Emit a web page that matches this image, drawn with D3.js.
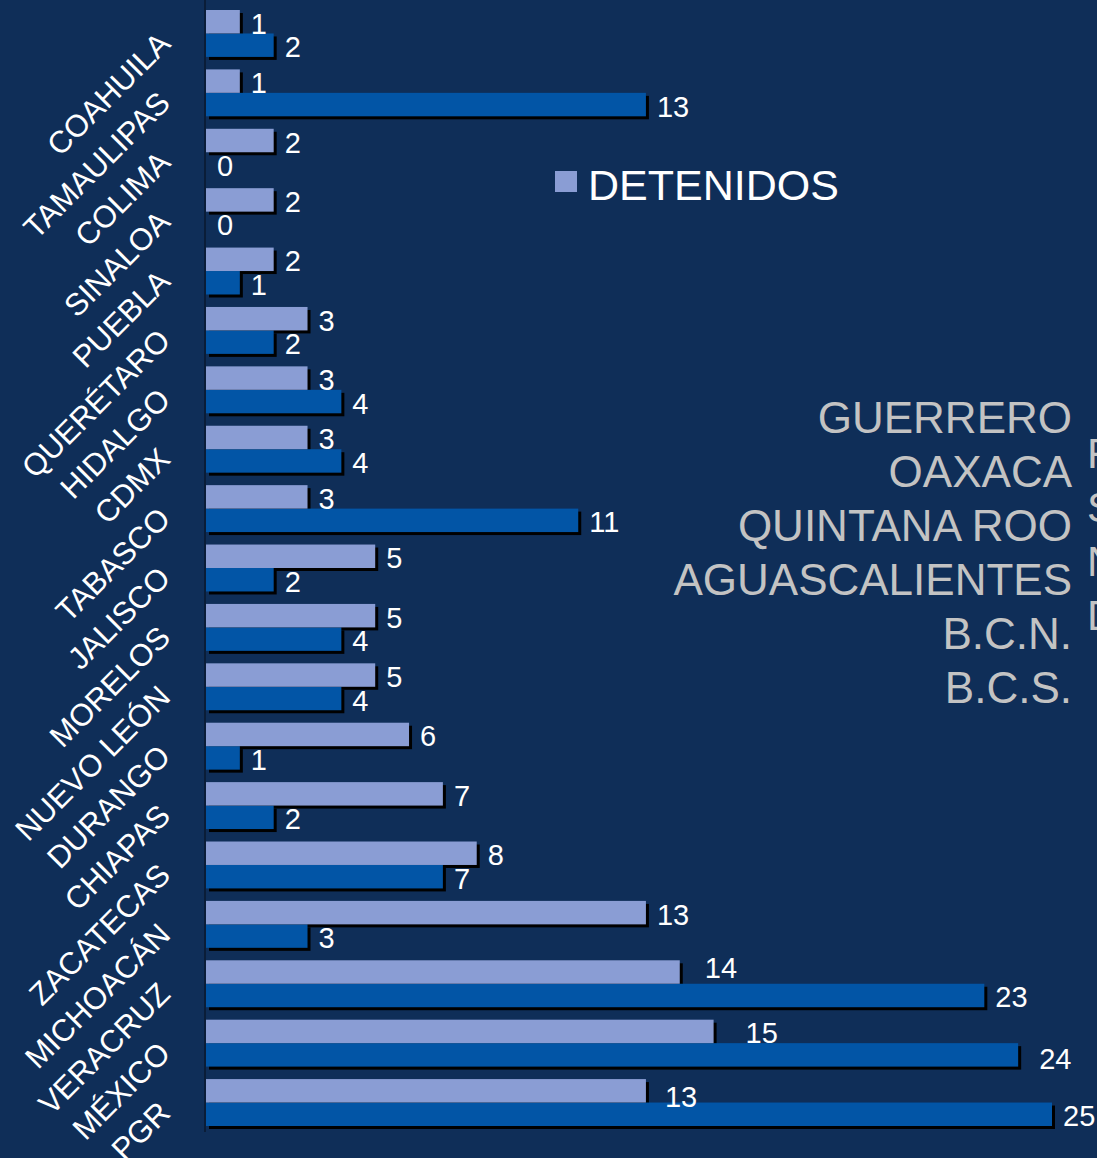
<!DOCTYPE html>
<html>
<head>
<meta charset="utf-8">
<script src="https://cdn.jsdelivr.net/npm/d3@7"></script>
<style>
  html, body { margin: 0; padding: 0; background: #0f2e58; }
  svg { display: block; }
</style>
</head>
<body>
<div id="chart"></div>
<script>
// data, top to bottom
const states = ["COAHUILA", "TAMAULIPAS", "COLIMA", "SINALOA", "PUEBLA", "QUERÉTARO",
  "HIDALGO", "CDMX", "TABASCO", "JALISCO", "MORELOS", "NUEVO LEÓN", "DURANGO",
  "CHIAPAS", "ZACATECAS", "MICHOACÁN", "VERACRUZ", "MÉXICO", "PGR"];
const detenidos = [1, 1, 2, 2, 2, 3, 3, 3, 3, 5, 5, 5, 6, 7, 8, 13, 14, 15, 13];
const otros = [2, 13, 0, 0, 1, 2, 4, 4, 11, 2, 4, 4, 1, 2, 7, 3, 23, 24, 25];
const sinCasos = ["GUERRERO", "OAXACA", "QUINTANA ROO", "AGUASCALIENTES", "B.C.N.", "B.C.S."];
const cortados = ["F", "S", "N", "D"];
const legendLabel = "DETENIDOS";

const width = 1097;
const height = 1158;

const rows = states.map((s, i) => ({name: s, a: detenidos[i], b: otros[i]}));

const svg = d3.select("#chart").append("svg")
  .attr("width", width)
  .attr("height", height)
  .attr("font-family", "Liberation Sans, Arial, sans-serif");

svg.append("rect").attr("width", width).attr("height", height).attr("fill", "#0f2e58");

// scales
const x = d3.scaleLinear().domain([0, 25]).range([206, 1052]);
const y = d3.scaleBand().domain(states).range([10, 1126]).paddingInner(0.21).paddingOuter(0);
const sub = d3.scaleBand().domain(["a", "b"]).range([0, y.bandwidth()]);

const colors = {a: "#8a9dd4", b: "#0255a6"};

// a few labels were moved by hand in the original
const nudge = {"VERACRUZ-a": [14, -6], "MÉXICO-a": [21, 0], "MÉXICO-b": [10, 2], "PGR-a": [8, 4]};

const groups = svg.append("g")
  .selectAll("g")
  .data(rows)
  .join("g")
    .attr("transform", d => `translate(0,${y(d.name)})`);

// shadows first, then bars
["b", "a"].forEach(k => {
  groups.append("rect")
    .attr("x", x(0) + 3)
    .attr("y", sub(k) + 3)
    .attr("width", d => Math.max(0, x(d[k]) - x(0)))
    .attr("height", sub.bandwidth())
    .attr("fill", d => d[k] > 0 ? "#000" : "none");
});
["b", "a"].forEach(k => {
  groups.append("rect")
    .attr("x", x(0))
    .attr("y", sub(k))
    .attr("width", d => x(d[k]) - x(0))
    .attr("height", sub.bandwidth())
    .attr("fill", colors[k]);
});

["a", "b"].forEach(k => {
  groups.append("text")
    .attr("x", d => x(d[k]) + 11 + (nudge[d.name + "-" + k] || [0, 0])[0])
    .attr("y", d => sub(k) + sub.bandwidth() / 2 + 12 + (nudge[d.name + "-" + k] || [0, 0])[1])
    .attr("fill", "#fff")
    .attr("font-size", 29)
    .text(d => d[k]);
});

// axis line
svg.append("line")
  .attr("x1", 205).attr("x2", 205)
  .attr("y1", 0).attr("y2", 1132)
  .attr("stroke", "#0a1d38").attr("stroke-width", 2);

// rotated state names
svg.append("g")
  .selectAll("text")
  .data(states)
  .join("text")
    .attr("transform", d => `translate(172,${y(d) + y.bandwidth() / 2 + 12}) rotate(-45)`)
    .attr("text-anchor", "end")
    .attr("fill", "#fff")
    .attr("font-size", 31)
    .text(d => d);

// legend
svg.append("rect").attr("x", 555).attr("y", 171).attr("width", 22).attr("height", 21).attr("fill", colors.a);
svg.append("text")
  .attr("x", 588).attr("y", 200)
  .attr("fill", "#fff")
  .attr("font-size", 43)
  .text(legendLabel);

// states without cases
svg.append("g")
  .selectAll("text")
  .data(sinCasos)
  .join("text")
    .attr("x", 1072)
    .attr("y", (d, i) => 433 + i * 54)
    .attr("text-anchor", "end")
    .attr("fill", "#c3c3c3")
    .attr("font-size", 44)
    .text(d => d);

svg.append("g")
  .selectAll("text")
  .data(cortados)
  .join("text")
    .attr("x", 1087)
    .attr("y", (d, i) => 468 + i * 54)
    .attr("fill", "#c3c3c3")
    .attr("font-size", 42)
    .text(d => d);
</script>
</body>
</html>
